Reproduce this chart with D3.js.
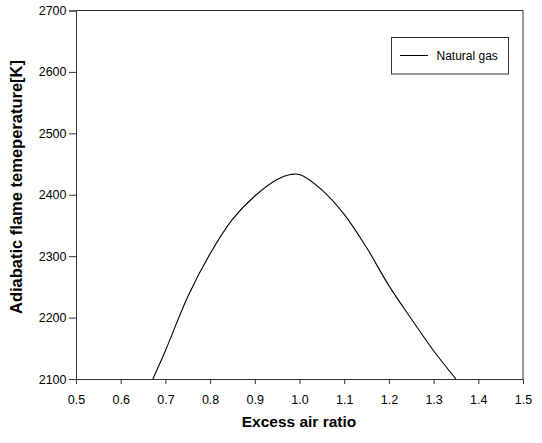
<!DOCTYPE html>
<html><head><meta charset="utf-8">
<script src="https://cdn.jsdelivr.net/npm/d3@7"></script>
<style>body{margin:0;background:#fff;} svg{display:block;font-family:"Liberation Sans",Arial,sans-serif;}</style>
</head><body>
<svg id="c" width="542" height="443"></svg>
<script>
const xValues = [0.672, 0.70, 0.75, 0.80, 0.85, 0.90, 0.95, 0.98, 1.00, 1.05, 1.10, 1.15, 1.20, 1.25, 1.30, 1.35];
const tempValues = [2100, 2146, 2234, 2304, 2360, 2398, 2425, 2433, 2433, 2408, 2368, 2314, 2252, 2198, 2146, 2100];
const xTicks = [0.5, 0.6, 0.7, 0.8, 0.9, 1.0, 1.1, 1.2, 1.3, 1.4, 1.5];
const yTicks = [2100, 2200, 2300, 2400, 2500, 2600, 2700];
const seriesName = "Natural gas";

const svg = d3.select("#c");
const L = 76, R = 523, T = 10.5, B = 379;
const x = d3.scaleLinear().domain([0.5, 1.5]).range([L, R]);
const y = d3.scaleLinear().domain([2100, 2700]).range([B, T]);
const axisColor = "#333";

// frame top/right
svg.append("line").attr("x1", L).attr("x2", R).attr("y1", T).attr("y2", T).attr("stroke", axisColor);
svg.append("line").attr("x1", R).attr("x2", R).attr("y1", T).attr("y2", B).attr("stroke", axisColor);

const xa = svg.append("g").attr("transform", `translate(0,${B})`)
  .call(d3.axisBottom(x).tickValues(xTicks).tickFormat(d3.format(".1f")).tickSizeOuter(0).tickSize(5).tickPadding(11));
const ya = svg.append("g").attr("transform", `translate(${L},0)`)
  .call(d3.axisLeft(y).tickValues(yTicks).tickFormat(d3.format("d")).tickSizeOuter(0).tickSize(7).tickPadding(2.5));
[xa, ya].forEach(g => {
  g.selectAll("path,line").attr("stroke", axisColor);
  g.selectAll("text").attr("fill", "#000").style("font-size", "12.5px").style("font-family", '"Liberation Sans",Arial,sans-serif');
});

const data = xValues.map((v, i) => ({x: v, t: tempValues[i]}));
svg.append("path").datum(data)
  .attr("fill", "none").attr("stroke", "#000").attr("stroke-width", 1.1)
  .attr("d", d3.line().x(d => x(d.x)).y(d => y(d.t)).curve(d3.curveCatmullRom.alpha(0.5)));

// titles
svg.append("text").attr("x", 299).attr("y", 427).attr("text-anchor", "middle")
  .style("font-size", "15.5px").style("font-weight", "bold").text("Excess air ratio");
svg.append("text").attr("transform", `translate(22,187) rotate(-90)`).attr("text-anchor", "middle")
  .style("font-size", "16.5px").style("font-weight", "bold").text("Adiabatic flame temeperature[K]");

// legend
const lg = svg.append("g");
lg.append("rect").attr("x", 391.5).attr("y", 37.5).attr("width", 117).attr("height", 36.5)
  .attr("fill", "#fff").attr("stroke", axisColor);
lg.append("line").attr("x1", 400).attr("x2", 428).attr("y1", 55.5).attr("y2", 55.5).attr("stroke", "#000");
lg.append("text").attr("x", 436.5).attr("y", 59.8).style("font-size", "12px").text(seriesName);
</script>
</body></html>
